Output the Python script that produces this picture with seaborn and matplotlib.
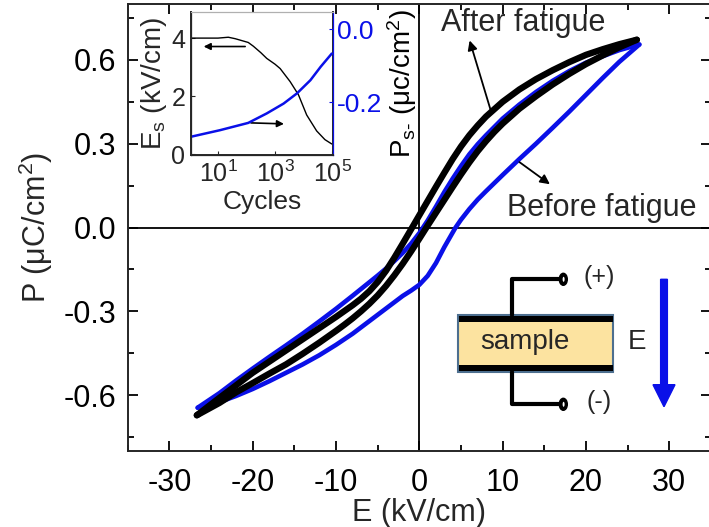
import numpy as np
import pandas as pd
import matplotlib
matplotlib.use('Agg')
import matplotlib.pyplot as plt
import seaborn as sns
from matplotlib.patches import Rectangle, Ellipse, FancyArrow

# ---------------- data ----------------
# After fatigue (black) loop, descending branch (upper)
after_down_E = [26.1, 24.0, 22.0, 20.0, 18.0, 16.0, 14.0, 12.0, 10.0, 8.0, 7.0, 6.0, 5.0, 4.0, 3.0, 2.0, 1.0,
                0.0, -0.86, -2.0, -3.0, -4.0, -5.0, -6.0, -7.0, -8.0, -10.0, -12.0, -14.0, -16.0, -18.0,
                -20.0, -22.0, -24.0, -26.7]
after_down_P = [0.672, 0.656, 0.638, 0.618, 0.592, 0.563, 0.531, 0.494, 0.450, 0.397, 0.365, 0.330, 0.290,
                0.245, 0.196, 0.146, 0.095, 0.044, 0.0, -0.058, -0.108, -0.155, -0.195, -0.228, -0.255,
                -0.278, -0.320, -0.360, -0.400, -0.440, -0.480, -0.520, -0.565, -0.610, -0.672]
# After fatigue ascending branch (lower)
after_up_E = [-26.7, -24.0, -22.0, -20.0, -18.0, -16.0, -14.0, -12.0, -10.0, -9.0, -8.0, -7.0, -6.0, -5.0,
              -4.0, -3.0, -2.0, -1.0, 0.0, 0.85, 2.0, 3.0, 4.0, 5.0, 6.0, 7.0, 8.0, 9.0, 10.0, 12.0, 14.0,
              16.0, 18.0, 20.0, 22.0, 24.0, 26.1]
after_up_P = [-0.672, -0.628, -0.590, -0.557, -0.523, -0.490, -0.452, -0.412, -0.370, -0.348, -0.325,
              -0.300, -0.273, -0.243, -0.209, -0.171, -0.130, -0.086, -0.040, 0.0, 0.053, 0.099, 0.145,
              0.190, 0.233, 0.273, 0.309, 0.342, 0.372, 0.425, 0.470, 0.512, 0.550, 0.585, 0.616, 0.645,
              0.672]
# Before fatigue (blue) loop, descending branch
before_down_E = [26.4, 24.0, 22.0, 20.0, 18.0, 16.0, 14.0, 12.0, 10.0, 8.0, 7.0, 6.0, 5.0, 4.0, 3.0, 2.0,
                 1.0, 0.0, -1.0, -2.0, -3.0, -4.0, -5.0, -6.0, -8.0, -10.0, -12.0, -14.0, -16.0, -18.0,
                 -20.0, -22.0, -24.0, -26.6]
before_down_P = [0.655, 0.635, 0.613, 0.590, 0.560, 0.525, 0.485, 0.440, 0.390, 0.330, 0.298, 0.262,
                 0.220, 0.175, 0.127, 0.075, 0.025, -0.020, -0.058, -0.091, -0.120, -0.147, -0.172,
                 -0.196, -0.244, -0.291, -0.336, -0.380, -0.422, -0.463, -0.505, -0.548, -0.593, -0.645]
# Before fatigue ascending branch
before_up_E = [-26.6, -24.0, -22.0, -20.0, -18.0, -16.0, -14.0, -12.0, -10.0, -8.0, -6.0, -4.0, -2.0,
               -1.0, 0.0, 1.0, 2.0, 3.0, 4.0, 4.35, 5.0, 6.0, 7.0, 8.0, 10.0, 12.0, 14.0, 16.0, 18.0, 20.0,
               22.0, 24.0, 26.4]
before_up_P = [-0.645, -0.625, -0.603, -0.578, -0.550, -0.520, -0.490, -0.457, -0.420, -0.380, -0.335,
               -0.290, -0.245, -0.226, -0.205, -0.173, -0.127, -0.070, -0.018, 0.0, 0.028, 0.066, 0.100,
               0.130, 0.188, 0.245, 0.300, 0.357, 0.415, 0.475, 0.535, 0.593, 0.655]

x_ticks = [-30, -20, -10, 0, 10, 20, 30]
x_ticklabels = ['-30', '-20', '-10', '0', '10', '20', '30']
y_ticks = [-0.6, -0.3, 0.0, 0.3, 0.6]
y_ticklabels = ['-0.6', '-0.3', '0.0', '0.3', '0.6']

# inset: coercive field Es vs cycles (black)
es_cycles = [1.12, 3.0, 10.0, 23.0, 40.0, 115.0, 174.0, 316.0, 513.0, 1000.0, 1514.0, 3388.0,
             6607.0, 12882.0, 28840.0, 56234.0, 97724.0]
es_values = [4.0, 4.0, 4.0, 4.03, 3.98, 3.85, 3.72, 3.5, 3.3, 3.1, 2.95, 2.5,
             2.05, 1.35, 0.8, 0.5, 0.35]
# inset: Ps- vs cycles (blue)
ps_cycles = [1.12, 11.7, 115.0, 513.0, 2000.0, 5900.0, 17400.0, 40000.0, 97700.0]
ps_values = [-0.295, -0.277, -0.257, -0.231, -0.204, -0.176, -0.140, -0.103, -0.067]
inset_yl_ticks = [0, 2, 4]
inset_yr_ticks = [0.0, -0.2]
inset_yr_ticklabels = ['0.0', '-0.2']
inset_x_ticks = [10, 1000, 100000]
inset_x_ticklabels = ['$10^1$', '$10^3$', '$10^5$']

BLUE = '#0a10e8'

# ---------------- style ----------------
sns.set_theme(style='ticks')
plt.rcParams['font.family'] = ['Liberation Sans', 'DejaVu Sans']
plt.rcParams['mathtext.fontset'] = 'custom'
plt.rcParams['mathtext.rm'] = 'Liberation Sans'
plt.rcParams['mathtext.it'] = 'Liberation Sans:italic'
plt.rcParams['mathtext.bf'] = 'Liberation Sans:bold'
plt.rcParams['axes.linewidth'] = 1.4

fig = plt.figure(figsize=(7.09, 5.27), dpi=100)
ax = fig.add_axes([0.1801, 0.1442, 0.8227, 0.8482])

ax.axhline(0, color='black', lw=1.3, zorder=1)
ax.axvline(0, color='black', lw=1.3, zorder=1)

for E, P in [(before_down_E, before_down_P), (before_up_E, before_up_P)]:
    sns.lineplot(x=E, y=P, sort=False, estimator=None, color=BLUE, lw=3.3, ax=ax, zorder=2,
                 solid_joinstyle='round')
for E, P in [(after_down_E, after_down_P), (after_up_E, after_up_P)]:
    sns.lineplot(x=E, y=P, sort=False, estimator=None, color='black', lw=4.6, ax=ax, zorder=3,
                 solid_capstyle='round', solid_joinstyle='round')

ax.set_xlim(-35, 35)
ax.set_ylim(-0.8, 0.8)
ax.set_xticks(x_ticks)
ax.set_xticklabels(x_ticklabels)
ax.set_xticks(np.arange(-35, 36, 5), minor=True)
ax.set_yticks(y_ticks)
ax.set_yticklabels(y_ticklabels)
ax.set_yticks([-0.75, -0.45, -0.15, 0.15, 0.45, 0.75], minor=True)
ax.tick_params(which='both', direction='in', top=True, right=True, width=1.3,
               labelsize=22, colors='black')
ax.tick_params(which='major', length=7)
ax.tick_params(axis='y', which='major', pad=8)
ax.tick_params(axis='x', which='major', pad=12)
ax.tick_params(which='minor', length=4)
ax.set_xlabel('E (kV/cm)', fontsize=22, labelpad=0)
ax.set_ylabel('P (μC/cm$^2$)', fontsize=22, labelpad=6)

# annotations
ax.text(2.55, 0.705, 'After fatigue', fontsize=22, ha='left', va='baseline')
ax.text(10.5, 0.04, 'Before fatigue', fontsize=22, ha='left', va='baseline')
ax.annotate('', xy=(5.94, 0.679), xytext=(8.74, 0.402),
            arrowprops=dict(arrowstyle='-|>', color='black', lw=1.3, mutation_scale=14))
ax.annotate('', xy=(15.94, 0.149), xytext=(11.74, 0.24),
            arrowprops=dict(arrowstyle='-|>', color='black', lw=1.3, mutation_scale=14))

# sample diagram (in pixel-based figure coords)
W, H = 709.0, 527.0
def fx(px):
    return px / W
def fy(py):
    return 1 - py / H
tr = fig.transFigure
fig.patches.append(Rectangle((fx(458.3), fy(371.7)), fx(613.3) - fx(458.3), fy(315) - fy(371.7),
                             transform=tr, facecolor='#fce3a0', edgecolor='#4d6f8f', lw=1.5, zorder=5))
fig.patches.append(Rectangle((fx(459), fy(321.5)), fx(612.6) - fx(459), fy(315.7) - fy(321.5),
                             transform=tr, facecolor='black', edgecolor='none', zorder=6))
fig.patches.append(Rectangle((fx(459), fy(371)), fx(612.6) - fx(459), fy(365) - fy(371),
                             transform=tr, facecolor='black', edgecolor='none', zorder=6))
fig.lines.append(plt.Line2D([fx(511.7), fx(511.7), fx(560)], [fy(315), fy(279.3), fy(279.3)],
                            transform=tr, color='black', lw=3, zorder=6))
fig.lines.append(plt.Line2D([fx(511.7), fx(511.7), fx(560)], [fy(371.7), fy(404.3), fy(404.3)],
                            transform=tr, color='black', lw=3, zorder=6))
for cy in (279.3, 404.3):
    fig.patches.append(Ellipse((fx(563.3), fy(cy)), 8 / W, 12 / H, transform=tr,
                               facecolor='black', edgecolor='black', zorder=7))
    fig.patches.append(Ellipse((fx(563.6), fy(cy)), 2 / W, 5 / H, transform=tr,
                               facecolor='white', edgecolor='none', zorder=8))
fig.text(fx(525), fy(342), 'sample', fontsize=20, ha='center', va='center', zorder=9)
fig.text(fx(599.3), fy(277), '(+)', fontsize=18, ha='center', va='center')
fig.text(fx(599.3), fy(402), '(-)', fontsize=18, ha='center', va='center')
fig.text(fx(637), fy(342), 'E', fontsize=20, ha='center', va='center')
fig.patches.append(FancyArrow(fx(664), fy(279.3), 0, fy(406.7) - fy(279.3), width=5 / H,
                              head_width=22 / W, head_length=22 / H, length_includes_head=True,
                              transform=tr, color=BLUE, zorder=6))

# ---------------- inset ----------------
ins = fig.add_axes([191 / W, 1 - 155 / H, 142 / W, 143 / H])
ins.set_xscale('log')
sns.lineplot(x=es_cycles, y=es_values, sort=False, estimator=None, color='black', lw=1.0, ax=ins)
ins.set_xlim(1.13, 1.08e5)
ins.set_ylim(-0.03, 4.9)
ins.set_yticks(inset_yl_ticks)
ins.set_xticks(inset_x_ticks)
ins.set_xticklabels(inset_x_ticklabels)
ins.minorticks_off()
ins.tick_params(which='both', direction='in', labelsize=18, length=3, width=0.8, pad=4)
ins.set_xlabel('Cycles', fontsize=19, labelpad=2)
ins.set_ylabel('E$_\\mathrm{s}$ (kV/cm)', fontsize=20, labelpad=2)
ins.spines['top'].set_color('#b0b0b0')
ins.spines['top'].set_linewidth(0.8)
ins.spines['left'].set_linewidth(0.9)
ins.spines['bottom'].set_linewidth(0.9)

ins2 = ins.twinx()
sns.lineplot(x=ps_cycles, y=ps_values, sort=False, estimator=None, color=BLUE, lw=1.8, ax=ins2)
ins2.set_ylim(-0.345, 0.047)
ins2.set_yticks(inset_yr_ticks)
ins2.set_yticklabels(inset_yr_ticklabels)
ins2.tick_params(axis='y', direction='in', labelsize=19, length=3, width=0.8, colors=BLUE, pad=3)
ins2.spines['right'].set_color(BLUE)
ins2.spines['right'].set_linewidth(0.9)
ins2.spines['top'].set_color('#b0b0b0')
ins2.spines['top'].set_linewidth(0.8)
ins2.set_ylabel('P$_{\\mathrm{s}\\text{-}}$ (μc/cm$^2$)', fontsize=20, labelpad=2, color='black')

ins.annotate('', xy=(10 ** 0.40, 3.71), xytext=(10 ** 2.05, 3.71),
             arrowprops=dict(arrowstyle='-|>', color='black', lw=1.2, mutation_scale=10))
ins.annotate('', xy=(10 ** 3.41, 1.04), xytext=(10 ** 2.06, 1.08),
             arrowprops=dict(arrowstyle='-|>', color='black', lw=1.2, mutation_scale=10))

fig.savefig('out.png', dpi=100)
